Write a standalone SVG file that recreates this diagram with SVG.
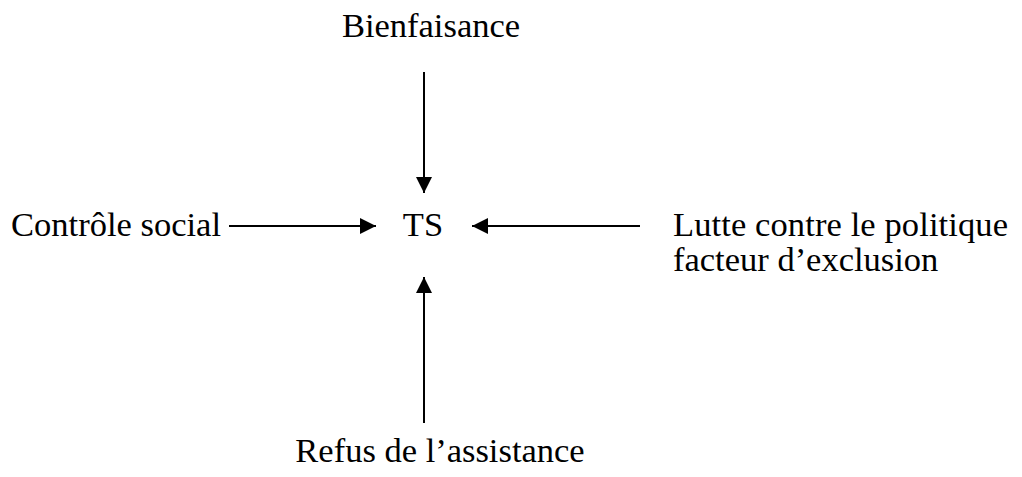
<svg xmlns="http://www.w3.org/2000/svg" width="1022" height="477" viewBox="0 0 1022 477">
<style>
text{font-family:"Liberation Serif","DejaVu Serif",serif;font-size:34.5px;fill:#000}
.c{stroke:#000;stroke-width:2;fill:none}
</style>
<defs>
<marker id="ah" viewBox="0 0 16 16" refX="16" refY="8" markerWidth="16" markerHeight="16" markerUnits="userSpaceOnUse" orient="auto">
<path d="M0,0 L16,8 L0,16 Z" fill="#000"/>
</marker>
</defs>
<rect width="1022" height="477" fill="#fff"/>
<g id="connectors">
<line class="c" x1="424" y1="72" x2="424" y2="193" marker-end="url(#ah)"/>
<line class="c" x1="229" y1="226" x2="376" y2="226" marker-end="url(#ah)"/>
<line class="c" x1="640" y1="226" x2="472" y2="226" marker-end="url(#ah)"/>
<line class="c" x1="424" y1="423" x2="424" y2="277" marker-end="url(#ah)"/>
</g>
<g id="node-bienfaisance"><text x="431" y="37" text-anchor="middle" font-size="34">Bienfaisance</text></g>
<g id="node-ts"><text x="423" y="236" text-anchor="middle">TS</text></g>
<g id="node-controle"><text x="11" y="236" textLength="210">Contrôle social</text></g>
<g id="node-lutte"><text x="673" y="236" textLength="335">Lutte contre le politique</text><text x="673" y="271">facteur d’exclusion</text></g>
<g id="node-refus"><text x="440" y="462" text-anchor="middle">Refus de l’assistance</text></g>
</svg>
